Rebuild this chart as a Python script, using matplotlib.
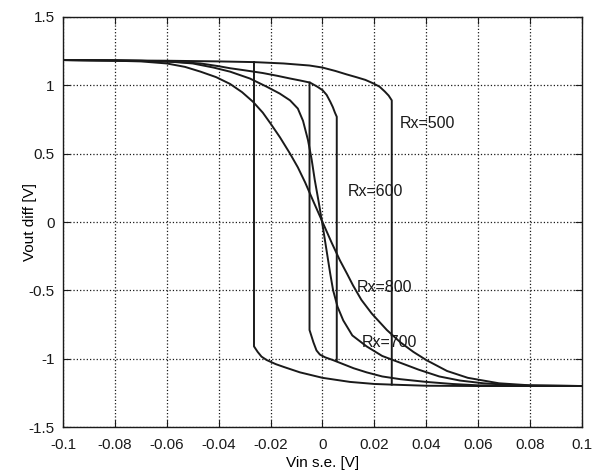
import numpy as np
import matplotlib
matplotlib.use('Agg')
import matplotlib.pyplot as plt

plt.rcParams['font.family'] = ['Liberation Sans', 'DejaVu Sans']
plt.rcParams['axes.unicode_minus'] = False

# ── Data ──────────────────────────────────────────────────────────────────────

# Rx=800: plain S-curve, no visible hysteresis
rx800_x = [-0.1, -0.08, -0.07, -0.06, -0.053, -0.047, -0.041, -0.0356, -0.031,
           -0.0268, -0.023, -0.02, -0.0164, -0.0125, -0.0095, -0.0067, -0.0035,
           0.0, 0.0035, 0.0067, 0.0095, 0.0118, 0.015, 0.019, 0.0248, 0.03,
           0.035, 0.04, 0.048, 0.056, 0.068, 0.08, 0.1]
rx800_y = [1.185, 1.18, 1.175, 1.16, 1.135, 1.10, 1.06, 1.01, 0.95,
           0.88, 0.80, 0.72, 0.62, 0.50, 0.40, 0.29, 0.15,
           0.0, -0.15, -0.28, -0.38, -0.465, -0.57, -0.67, -0.79, -0.88,
           -0.95, -1.01, -1.09, -1.14, -1.18, -1.195, -1.2]

# Rx=700: steeper S-curve
rx700_x = [-0.1, -0.08, -0.06, -0.05, -0.042, -0.0356, -0.028, -0.0215, -0.0165,
           -0.0125, -0.0095, -0.0075, -0.0056, -0.0042, -0.003, -0.0015, 0.0,
           0.0015, 0.003, 0.0041, 0.0058, 0.008, 0.0115, 0.017, 0.023, 0.03,
           0.037, 0.045, 0.053, 0.062, 0.075, 0.1]
rx700_y = [1.185, 1.183, 1.175, 1.16, 1.13, 1.10, 1.05, 0.99, 0.94,
           0.89, 0.83, 0.74, 0.60, 0.46, 0.31, 0.15, -0.02,
           -0.2, -0.38, -0.50, -0.62, -0.72, -0.83, -0.91, -0.98, -1.03,
           -1.08, -1.13, -1.16, -1.18, -1.195, -1.2]

# Rx=600: narrow hysteresis loop (upper branch ends with the jump down,
# lower branch starts with the jump up)
rx600_up_x = [-0.1, -0.07, -0.055, -0.047, -0.04, -0.0356, -0.03, -0.023, -0.0175,
              -0.0125, -0.0085, -0.0048, -0.002, 0.0, 0.0016, 0.003, 0.004,
              0.0048, 0.0055, 0.0055]
rx600_up_y = [1.185, 1.18, 1.17, 1.16, 1.14, 1.125, 1.11, 1.09, 1.07,
              1.05, 1.035, 1.02, 0.99, 0.965, 0.93, 0.88, 0.84,
              0.80, 0.77, -1.01]
rx600_lo_x = [-0.005, -0.005, -0.0035, -0.0023, -0.001, 0.001, 0.004, 0.008, 0.012,
              0.017, 0.023, 0.03, 0.04, 0.05, 0.06, 0.08, 0.1]
rx600_lo_y = [1.02, -0.79, -0.88, -0.94, -0.97, -0.99, -1.01, -1.04, -1.07,
              -1.10, -1.13, -1.15, -1.17, -1.185, -1.195, -1.2, -1.2]

# Rx=500: wide hysteresis loop
rx500_up_x = [-0.1, -0.06, -0.04, -0.0264, -0.015, -0.005, 0.0, 0.005, 0.0093,
              0.013, 0.0165, 0.0195, 0.022, 0.024, 0.0255, 0.0267, 0.0267]
rx500_up_y = [1.185, 1.18, 1.175, 1.17, 1.16, 1.145, 1.13, 1.105, 1.08,
              1.06, 1.04, 1.015, 0.99, 0.955, 0.925, 0.89, -1.19]
rx500_lo_x = [-0.0264, -0.0264, -0.025, -0.0235, -0.0215, -0.018, -0.015, -0.0087,
              0.0, 0.0106, 0.02, 0.027, 0.04, 0.06, 0.1]
rx500_lo_y = [1.17, -0.91, -0.95, -0.985, -1.01, -1.04, -1.06, -1.10,
              -1.14, -1.17, -1.185, -1.19, -1.198, -1.2, -1.2]

# curve labels: text, x, y (data coords)
labels = [('Rx=500', 0.0298, 0.72),
          ('Rx=600', 0.0098, 0.22),
          ('Rx=800', 0.0133, -0.48),
          ('Rx=700', 0.0152, -0.885)]

x_ticks = [-0.1, -0.08, -0.06, -0.04, -0.02, 0.0, 0.02, 0.04, 0.06, 0.08, 0.1]
x_tick_labels = ['-0.1', '-0.08', '-0.06', '-0.04', '-0.02', '0',
                 '0.02', '0.04', '0.06', '0.08', '0.1']
y_ticks = [-1.5, -1.0, -0.5, 0.0, 0.5, 1.0, 1.5]
y_tick_labels = ['-1.5', '-1', '-0.5', '0', '0.5', '1', '1.5']


# ── Figure ────────────────────────────────────────────────────────────────────

fig = plt.figure(figsize=(6.02, 4.76), dpi=100)
ax = fig.add_axes([0.1047, 0.1029, 0.862, 0.8614])

LINE = dict(color='#1a1a1a', linewidth=1.4)
ax.plot(rx800_x, rx800_y, **LINE)
ax.plot(rx700_x, rx700_y, **LINE)
ax.plot(rx600_up_x, rx600_up_y, **LINE)
ax.plot(rx600_lo_x, rx600_lo_y, **LINE)
ax.plot(rx500_up_x, rx500_up_y, **LINE)
ax.plot(rx500_lo_x, rx500_lo_y, **LINE)

for text, tx, ty in labels:
    ax.text(tx, ty, text, fontsize=11.5, ha='left', va='center', color='#1a1a1a')

ax.set_xlim(-0.1, 0.1)
ax.set_ylim(-1.5, 1.5)
ax.set_xticks(x_ticks)
ax.set_xticklabels(x_tick_labels)
ax.set_yticks(y_ticks)
ax.set_yticklabels(y_tick_labels)
ax.tick_params(direction='in', length=5, width=0.8, top=True, right=True,
               labelsize=11, colors='#1a1a1a')
ax.tick_params(axis='x', pad=8)
ax.tick_params(axis='y', pad=6)
ax.grid(True, linestyle=':', color='#1a1a1a', linewidth=0.9)

for spine in ax.spines.values():
    spine.set_linewidth(1.0)
    spine.set_color('#1a1a1a')

ax.set_xlabel('Vin s.e. [V]', fontsize=11)
ax.set_ylabel('Vout diff [V]', fontsize=11)
ax.xaxis.set_label_coords(0.5, -0.07)
ax.yaxis.set_label_coords(-0.05, 0.5)

fig.savefig('out.png', dpi=100)
